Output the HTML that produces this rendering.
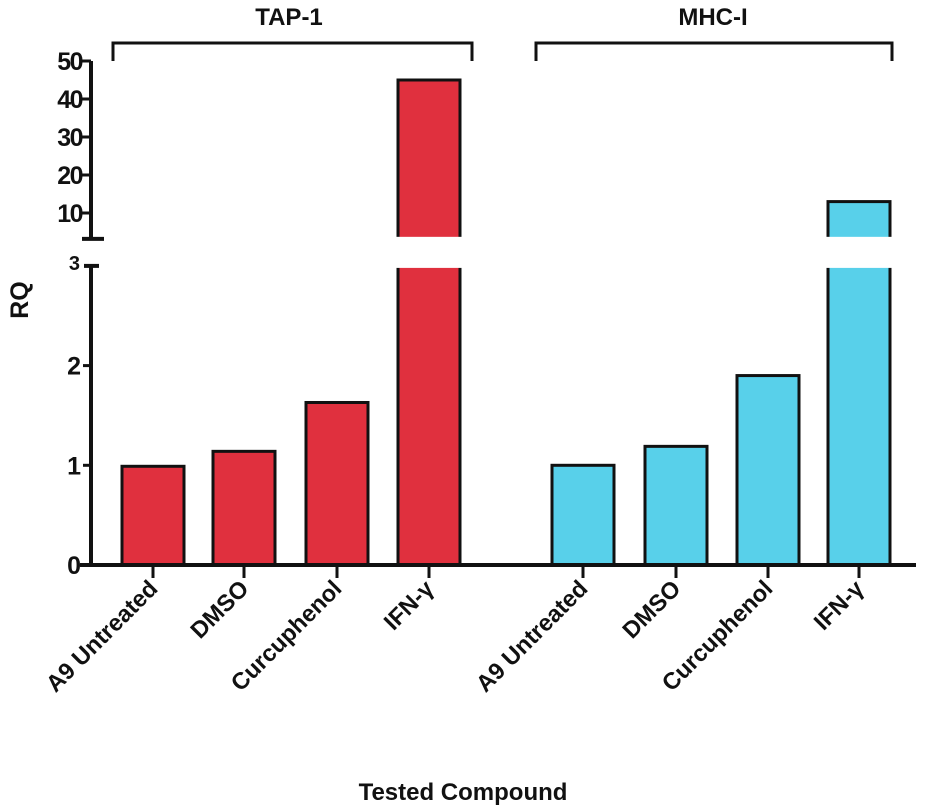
<!DOCTYPE html>
<html><head><meta charset="utf-8"><style>
html,body{margin:0;padding:0;background:#fff;}
svg{display:block;font-family:"Liberation Sans",Arial,sans-serif;font-weight:bold;}
</style></head><body>
<svg id="chart" width="926" height="812" viewBox="0 0 926 812"></svg>
<script>
const categories = ["A9 Untreated","DMSO","Curcuphenol","IFN-γ"];
const groups = ["TAP-1","MHC-I"];
const tapValues = [0.99, 1.14, 1.63, 45];
const mhcValues = [1.0, 1.19, 1.9, 13];
const lowTicks = [0,1,2,3];
const highTicks = [10,20,30,40,50];

const NS="http://www.w3.org/2000/svg";
const svg=document.getElementById('chart');
function mk(tag,attrs,parent){const e=document.createElementNS(NS,tag);for(const k in attrs)e.setAttribute(k,attrs[k]);(parent||svg).appendChild(e);return e;}
const AX=91;
function yLow(v){return 565-v*99.7;}
function yHigh(v){return 213-(v-10)*3.8;}
const LOW_MAX=3, HIGH_MIN=3.2;
const groupX=[[122,213,306,398],[552,645,737,828]];
const barW=62;
const colors=["#e0303e","#58d0ea"];
const seriesAll=[tapValues,mhcValues];

seriesAll.forEach((vals,g)=>{
  vals.forEach((v,i)=>{
    const x=groupX[g][i];
    if(v<=LOW_MAX){
      const r=mk('rect',{x:x,y:yLow(v),width:barW,height:565-yLow(v),fill:colors[g],stroke:'#111','stroke-width':3});
      
      
    } else {
      const r1=mk('rect',{x:x,y:yLow(LOW_MAX),width:barW,height:565-yLow(LOW_MAX),fill:colors[g],stroke:'#111','stroke-width':3});
      
      
      const r2=mk('rect',{x:x,y:yHigh(v),width:barW,height:yHigh(HIGH_MIN)-yHigh(v),fill:colors[g],stroke:'#111','stroke-width':3});
      
      
      const gap=mk('rect',{x:x-3,y:yHigh(HIGH_MIN)-2,width:barW+6,height:yLow(LOW_MAX)-yHigh(HIGH_MIN)+4,fill:'#fff'});
      
      
    }
  });
});

const ya=mk('g',{});


mk('line',{x1:AX,y1:yLow(0),x2:AX,y2:yLow(LOW_MAX),stroke:'#111','stroke-width':4},ya);
mk('line',{x1:84,y1:yLow(LOW_MAX),x2:99,y2:yLow(LOW_MAX),stroke:'#111','stroke-width':4},ya);
mk('line',{x1:AX,y1:yHigh(HIGH_MIN),x2:AX,y2:yHigh(50),stroke:'#111','stroke-width':4},ya);
mk('line',{x1:82,y1:yHigh(HIGH_MIN),x2:104,y2:yHigh(HIGH_MIN),stroke:'#111','stroke-width':4},ya);
lowTicks.forEach(t=>{
  if(t<LOW_MAX) mk('line',{x1:AX-8,y1:yLow(t),x2:AX,y2:yLow(t),stroke:'#111','stroke-width':3},ya);
  const tx=mk('text',{x:t===3?80:81,y:yLow(t)+(t===3?4:9),'text-anchor':'end','font-size':t===3?20:25,fill:'#111'},ya);
  tx.textContent=t;
  
  
});
highTicks.forEach(t=>{
  mk('line',{x1:AX-9,y1:yHigh(t),x2:AX,y2:yHigh(t),stroke:'#111','stroke-width':3},ya);
  const tx=mk('text',{x:AX-9,y:yHigh(t)+9,'text-anchor':'end','font-size':25,'letter-spacing':-1.5,fill:'#111'},ya);
  tx.textContent=t;
  
  
});

const xa=mk('g',{});


mk('line',{x1:80,y1:565,x2:916,y2:565,stroke:'#111','stroke-width':4},xa);
groupX.forEach((xs,g)=>xs.forEach((x,i)=>{
  const cx=x+barW/2;
  mk('line',{x1:cx,y1:565,x2:cx,y2:578,stroke:'#111','stroke-width':3},xa);
  const tx=mk('text',{x:cx+6,y:590,'text-anchor':'end','font-size':23.5,fill:'#111',transform:`rotate(-45 ${cx+6} 590)`},xa);
  tx.textContent=categories[i];
  
  
}));

const brk=[[113,472,289],[536,892,713]];
brk.forEach((b,g)=>{
  const p=mk('path',{d:`M${b[0]} 61 V43 H${b[1]} V61`,fill:'none',stroke:'#111','stroke-width':3});
  
  
  const t=mk('text',{x:b[2],y:25,'text-anchor':'middle','font-size':24,fill:'#111'});
  t.textContent=groups[g];
  
  
});

const yt=mk('text',{x:28,y:300,'text-anchor':'middle','font-size':25,fill:'#111',transform:'rotate(-90 28 300)'});
yt.textContent='RQ';


const xt=mk('text',{x:463,y:800,'text-anchor':'middle','font-size':24,fill:'#111'});
xt.textContent='Tested Compound';


</script>
</body></html>
